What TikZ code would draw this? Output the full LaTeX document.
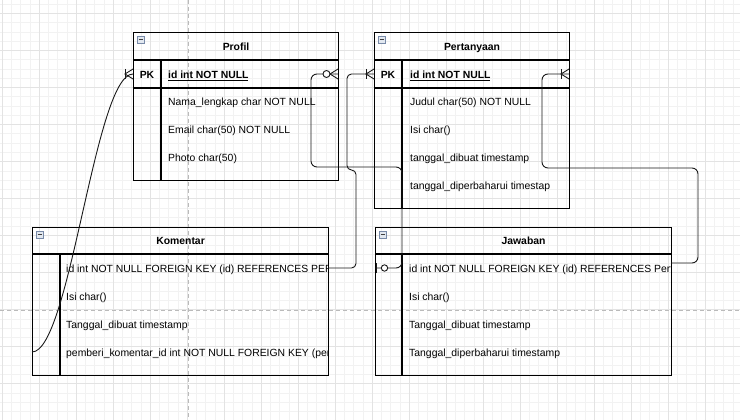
\documentclass[tikz,border=0pt]{standalone}
\usepackage{fontspec}
\setmainfont{Liberation Sans}
\definecolor{iconborder}{RGB}{120,138,168}
\definecolor{iconfill}{RGB}{226,232,240}
\begin{document}
\begin{tikzpicture}[x=1pt,y=-1pt,
  font=\fontsize{10.4}{12}\selectfont,
  minorgrid/.style={draw=black!5, line width=0.5pt},
  majorgrid/.style={draw=black!11, line width=0.6pt},
  pagebreak/.style={draw=black!27, dash pattern=on 4pt off 3pt, line width=0.9pt},
  tablebox/.style={draw=black, line width=1.1pt, anchor=north west, inner sep=0pt},
  tableline/.style={draw=black, line width=1.1pt},
  titletext/.style={anchor=base, inner sep=0pt, font=\fontsize{10.4}{12}\selectfont\bfseries},
  rowtext/.style={anchor=base west, inner sep=0pt},
  pktext/.style={anchor=base, inner sep=0pt, font=\fontsize{10.4}{12}\selectfont\bfseries},
  iconbox/.style={draw=iconborder, fill=iconfill, line width=0.6pt, anchor=north west,
    minimum size=7pt, inner sep=0pt,
    path picture={\draw[black!75, line width=0.7pt] ([xshift=1.4pt]path picture bounding box.west) -- ([xshift=-1.4pt]path picture bounding box.east);}},
  conn/.style={draw=black!90, line width=0.9pt},
  mandmany/.pic={\draw[conn] (-8,-5) -- (-8,5); \draw[conn] (0,-5) -- (-8,0) -- (0,5);},
  zeromany/.pic={\draw[conn] (0,-5) -- (-8,0) -- (0,5); \draw[conn, fill=white] (-11.5,0) circle[radius=3.5];},
  zeroone/.pic={\draw[conn] (-1.5,-5) -- (-1.5,5); \draw[conn, fill=white] (-9.5,0) circle[radius=3.2];}
]
\useasboundingbox (0,0) rectangle (740,420);
\fill[white] (0,0) rectangle (740,420);
% grid
\foreach \i in {0,...,80} {\draw[minorgrid] ({2+9.25*\i},0) -- ({2+9.25*\i},420);}
\foreach \i in {0,...,46} {\draw[minorgrid] (0,{13.5-9.25+9.25*\i}) -- (740,{13.5-9.25+9.25*\i});}
\foreach \i in {0,...,20} {\draw[majorgrid] ({2+37*\i},0) -- ({2+37*\i},420);}
\foreach \i in {0,...,11} {\draw[majorgrid] (0,{13.5+37*\i}) -- (740,{13.5+37*\i});}
\draw[pagebreak] (188,0) -- (188,420);
\draw[pagebreak] (0,310) -- (740,310);

% ---------- Profil ----------
\node[tablebox, minimum width=205pt, minimum height=148pt] (profil) at (133,32) {};
\node[iconbox] (profil-icon) at ([xshift=4pt,yshift=-4pt]profil.north west) {};
\node[titletext] (profil-title) at ([yshift=-18.3pt]profil.north) {Profil};
\draw[tableline] ([yshift=-28pt]profil.north west) -- ([yshift=-28pt]profil.north east);
\draw[tableline] ([yshift=-56pt]profil.north west) -- ([yshift=-56pt]profil.north east);
\draw[tableline] ([xshift=28pt,yshift=-28pt]profil.north west) -- ([xshift=28pt]profil.south west);
\node[pktext] (profil-pk) at (147,78.2) {PK};
\node[rowtext, font=\fontsize{10.4}{12}\selectfont\bfseries] (profil-id) at (168,78.2) {\underline{id int NOT NULL}};
\node[rowtext] (profil-nama) at (168,105.2) {Nama\_lengkap char NOT NULL};
\node[rowtext] (profil-email) at (168,133.2) {Email char(50) NOT NULL};
\node[rowtext] (profil-photo) at (168,161.2) {Photo char(50)};

% ---------- Pertanyaan ----------
\node[tablebox, minimum width=195pt, minimum height=176pt] (pert) at (374,32) {};
\node[iconbox] (pert-icon) at ([xshift=4pt,yshift=-4pt]pert.north west) {};
\node[titletext] (pert-title) at ([yshift=-18.3pt]pert.north) {Pertanyaan};
\draw[tableline] ([yshift=-28pt]pert.north west) -- ([yshift=-28pt]pert.north east);
\draw[tableline] ([yshift=-56pt]pert.north west) -- ([yshift=-56pt]pert.north east);
\draw[tableline] ([xshift=28pt,yshift=-28pt]pert.north west) -- ([xshift=28pt]pert.south west);
\node[pktext] (pert-pk) at (388,78.2) {PK};
\node[rowtext, font=\fontsize{10.4}{12}\selectfont\bfseries] (pert-id) at (410,78.2) {\underline{id int NOT NULL}};
\node[rowtext] (pert-judul) at (410,105.2) {Judul char(50) NOT NULL};
\node[rowtext] (pert-isi) at (410,133.2) {Isi char()};
\node[rowtext] (pert-dibuat) at (410,161.2) {tanggal\_dibuat timestamp};
\node[rowtext] (pert-diper) at (410,189.2) {tanggal\_diperbaharui timestap};

% ---------- Komentar ----------
\node[tablebox, minimum width=296pt, minimum height=148pt] (komentar) at (32,227) {};
\node[iconbox] (kom-icon) at ([xshift=4pt,yshift=-4pt]komentar.north west) {};
\node[titletext] (kom-title) at ([yshift=-17.8pt]komentar.north) {Komentar};
\draw[tableline] ([yshift=-27pt]komentar.north west) -- ([yshift=-27pt]komentar.north east);
\draw[tableline] ([xshift=28pt,yshift=-27pt]komentar.north west) -- ([xshift=28pt]komentar.south west);
\begin{scope}
\clip (60,255) rectangle (327,374);
\node[rowtext] (kom-id) at (66,272.2) {id int NOT NULL FOREIGN KEY (id) REFERENCES PERTANYAAN(id)};
\node[rowtext] (kom-isi) at (66,300.2) {Isi char()};
\node[rowtext] (kom-dibuat) at (66,328.2) {Tanggal\_dibuat timestamp};
\node[rowtext] (kom-pemberi) at (66,356.2) {pemberi\_komentar\_id int NOT NULL FOREIGN KEY (pemberi\_komentar\_id)};
\end{scope}

% ---------- Jawaban ----------
\node[tablebox, minimum width=296pt, minimum height=148pt] (jawaban) at (375,227) {};
\node[iconbox] (jaw-icon) at ([xshift=4pt,yshift=-4pt]jawaban.north west) {};
\node[titletext] (jaw-title) at ([yshift=-17.8pt]jawaban.north) {Jawaban};
\draw[tableline] ([yshift=-27pt]jawaban.north west) -- ([yshift=-27pt]jawaban.north east);
\draw[tableline] ([xshift=27pt,yshift=-27pt]jawaban.north west) -- ([xshift=27pt]jawaban.south west);
\begin{scope}
\clip (402,255) rectangle (670,374);
\node[rowtext] (jaw-id) at (409,272.2) {id int NOT NULL FOREIGN KEY (id) REFERENCES Pertanyaan(id)};
\node[rowtext] (jaw-isi) at (409,300.2) {Isi char()};
\node[rowtext] (jaw-dibuat) at (409,328.2) {Tanggal\_dibuat timestamp};
\node[rowtext] (jaw-diper) at (409,356.2) {Tanggal\_diperbaharui timestamp};
\end{scope}

% ---------- connectors ----------
\coordinate (profil-w) at (133,74);
\coordinate (profil-e) at (338,74);
\coordinate (pert-w) at (374,74);
\coordinate (pert-e) at (569,74);
\coordinate (kom-pemberi-w) at (32,352);
\coordinate (kom-id-e) at (328,268);
\coordinate (jaw-id-w) at (375,268);
\coordinate (jaw-id-e) at (671,263);
% Komentar.pemberi -> Profil.id
\draw[conn] (kom-pemberi-w) .. controls +(38,0) and +(-38,0) .. (profil-w);
% Profil.id -> Jawaban.id
\draw[conn, rounded corners=6pt] (profil-e) -- (311,74) -- (311,167) -- (402,167) -- (402,268) -- (jaw-id-w);
% Komentar.id -> Pertanyaan.id
\draw[conn, rounded corners=4.5pt] (kom-id-e) -- (356,268) -- (356,170) -- (347,170) -- (347,74) -- (pert-w);
% Jawaban.id -> Pertanyaan.id
\draw[conn, rounded corners=6pt] (jaw-id-e) -- (698,263) -- (698,168) -- (542,168) -- (542,74) -- (pert-e);

% markers
\pic at (profil-w) {mandmany};
\pic at (profil-e) {zeromany};
\pic at (pert-w) {mandmany};
\pic at (pert-e) {mandmany};
\pic[rotate=180] at (jaw-id-w) {zeroone};
\end{tikzpicture}
\end{document}
